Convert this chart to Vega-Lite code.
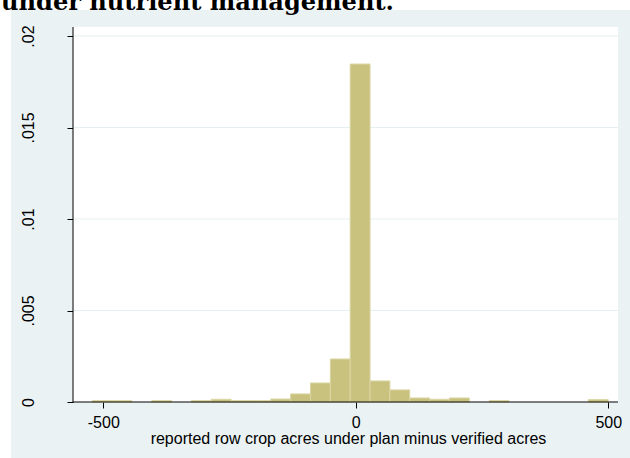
{
  "$schema": "https://vega.github.io/schema/vega-lite/v6.json",
  "width": 619,
  "height": 448,
  "autosize": {"type": "none"},
  "padding": {"left": 11, "top": 10, "right": 0, "bottom": 0},
  "background": "white",
  "title": {
    "text": "under nutrient management.",
    "font": "DejaVu Serif",
    "fontSize": 24.1,
    "fontWeight": "bold",
    "color": "black",
    "anchor": "start",
    "frame": "group",
    "offset": 0,
    "baseline": "alphabetic",
    "dx": -10,
    "dy": 24
  },
  "config": {
    "view": {"fill": "#EAF2F3", "stroke": null},
    "axis": {"labelFont": "Liberation Sans", "titleFont": "Liberation Sans", "labelColor": "black", "titleColor": "black", "zindex": 1}
  },
  "layer": [
    {
      "data": {"values": [{}]},
      "mark": {"type": "rect", "color": "white"},
      "encoding": {
        "x": {"datum": -560, "type": "quantitative"},
        "x2": {"datum": 519.2},
        "y": {"datum": 0.020492, "type": "quantitative"},
        "y2": {"datum": 0}
      }
    },
    {
      "data": {"values": [{"g": 0.005}, {"g": 0.01}, {"g": 0.015}, {"g": 0.02}]},
      "mark": {"type": "rule", "color": "#E6EFF1", "strokeWidth": 1},
      "encoding": {
        "y": {"field": "g", "type": "quantitative"},
        "x": {"datum": -560, "type": "quantitative"},
        "x2": {"datum": 519.2}
      }
    },
    {
      "data": {"values": [
        {"start": -522.0, "end": -482.7, "density": 0.0000727},
        {"start": -482.7, "end": -443.4, "density": 0.0000727},
        {"start": -404.1, "end": -364.8, "density": 0.0000727},
        {"start": -325.5, "end": -286.2, "density": 0.0000727},
        {"start": -286.2, "end": -246.9, "density": 0.000148},
        {"start": -246.9, "end": -207.6, "density": 0.0000727},
        {"start": -207.6, "end": -168.3, "density": 0.0000727},
        {"start": -168.3, "end": -129.0, "density": 0.000162},
        {"start": -129.0, "end": -89.7, "density": 0.00044},
        {"start": -89.7, "end": -50.4, "density": 0.00104},
        {"start": -50.4, "end": -11.1, "density": 0.00235},
        {"start": -11.1, "end": 28.2, "density": 0.01847},
        {"start": 28.2, "end": 67.5, "density": 0.00115},
        {"start": 67.5, "end": 106.8, "density": 0.00066},
        {"start": 106.8, "end": 146.1, "density": 0.00022},
        {"start": 146.1, "end": 185.4, "density": 0.000148},
        {"start": 185.4, "end": 224.7, "density": 0.00022},
        {"start": 264.0, "end": 303.3, "density": 0.0000727},
        {"start": 460.5, "end": 499.8, "density": 0.00013}
      ]},
      "mark": {"type": "rect", "fill": "#C9C27F", "stroke": "#DAD5A3", "strokeWidth": 1},
      "encoding": {
        "x": {
          "field": "start", "type": "quantitative",
          "scale": {"domain": [-682.8, 543.0], "nice": false, "zero": false},
          "axis": {
            "orient": "bottom", "offset": -56, "values": [-500, 0, 500],
            "labelExpr": "toString(datum.value)", "labelFlush": false,
            "domain": false, "grid": false, "ticks": true, "tickSize": 6, "tickColor": "black", "tickWidth": 1,
            "labelFontSize": 16, "labelPadding": 6.4,
            "title": "reported row crop acres under plan minus verified acres",
            "titleFontSize": 16, "titleFontWeight": "normal",
            "titleX": 337, "titleY": 41, "titleBaseline": "alphabetic", "titleAlign": "center"
          }
        },
        "x2": {"field": "end"},
        "y": {
          "field": "density", "type": "quantitative",
          "scale": {"domain": [-0.00306, 0.021421], "nice": false, "zero": false},
          "axis": {
            "orient": "left", "offset": -62, "values": [0, 0.005, 0.01, 0.015, 0.02],
            "labelExpr": "replace(format(datum.value, '.3~f'), '0.', '.')",
            "domain": false, "grid": false, "tickSize": 6, "tickColor": "black", "tickWidth": 1,
            "labelAngle": -90, "labelAlign": "center", "labelBaseline": "bottom",
            "labelFontSize": 16, "labelPadding": 30.6, "title": null
          }
        },
        "y2": {"datum": 0}
      }
    },
    {
      "data": {"values": [{}]},
      "mark": {"type": "rule", "color": "black", "strokeWidth": 1},
      "encoding": {
        "x": {"datum": -560, "type": "quantitative"},
        "x2": {"datum": 519.2},
        "y": {"datum": 0, "type": "quantitative"}
      }
    },
    {
      "data": {"values": [{}]},
      "mark": {"type": "rule", "color": "black", "strokeWidth": 1},
      "encoding": {
        "x": {"datum": -560, "type": "quantitative"},
        "y": {"datum": 0, "type": "quantitative"},
        "y2": {"datum": 0.020492}
      }
    }
  ]
}
